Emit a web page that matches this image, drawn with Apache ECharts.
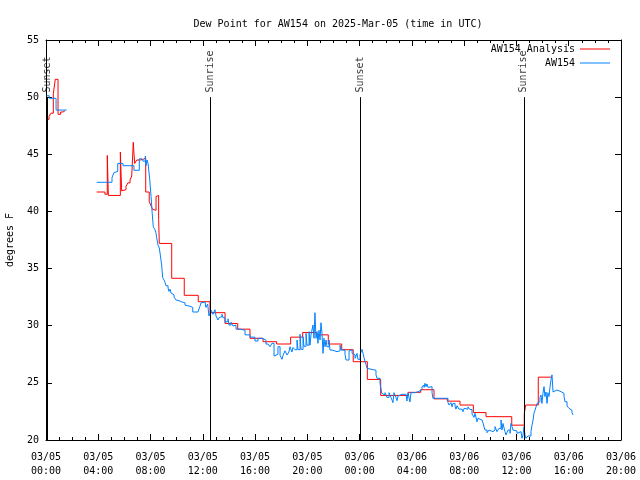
<!DOCTYPE html>
<html><head><meta charset="utf-8">
<script src="https://cdn.jsdelivr.net/npm/echarts@6/dist/echarts.min.js"></script>
<style>html,body{margin:0;padding:0;background:#fff}#c{width:640px;height:480px}</style>
</head><body><div id="c"></div>
<script>
// hours since 03/05 00:00 UTC ; null = data gap
const analysisHours = [0.05,0.23,0.38,0.56,0.71,0.92,1.12,1.30,1.45, null,
 3.88,4.51,4.69,4.77,5.69,5.79,5.89,6.12,6.27,6.43,
 6.56,6.66,6.68,6.73,6.79,6.94,7.19,7.40,7.63,7.90,
 8.01,8.16,8.26,8.42,8.55,8.62,8.67,9.62,10.58,11.65,
 12.55,13.70,14.67,15.61,16.61,17.65,18.72,19.64,20.71,21.60,
 22.63,23.51,24.59,25.61,27.72,28.67,29.69,30.71,31.68,32.70,
 33.67,35.64,36.60,36.71,37.67,38.64];
const analysisDewPt = [48.06,48.3,48.6,50.3,51.56,48.5,48.7,48.8,48.8, null,
 41.7,41.5,44.9,41.4,45.2,41.8,41.9,42.2,42.5,42.75,
 43.1,43.25,46.05,45.1,44.2,44.5,44.55,44.65,41.7,40.85,
 40.56,40.18,40.1,41.3,41.4,39.3,37.2,34.15,32.66,32.1,
 31.14,30.2,29.7,28.9,28.6,28.4,29.0,29.4,29.2,28.4,
 27.9,26.85,25.3,23.9,24.17,24.4,23.6,23.4,23.06,22.4,
 22.04,21.3,22.3,23.06,25.5,25.5];

const obsHours = [0.05,0.25,0.77,1.58, null,
 3.88,5.05,5.20,5.33,5.49,5.89,6.73,7.14,7.35,7.42,7.60,7.65,7.73,7.81,7.94,
 8.04,8.13,8.21,8.34,8.42,8.47,8.57,8.67,8.80,8.85,8.93,9.03,9.11,9.18,9.34,9.41,9.49,9.57,9.64,9.80,
 9.87,9.95,10.02,10.10,10.25,10.41,10.64,10.79,11.02,11.23,11.63,11.78,11.86,12.01,12.17,12.24,12.37,12.47,12.55,12.63,
 12.78,12.93,13.01,13.16,13.24,13.39,13.47,13.54,13.70,13.85,13.93,14.00,14.16,14.31,14.46,14.54,14.85,15.23,15.61,15.99,
 16.22,16.53,16.83,16.99,17.14,17.29,17.45,17.60,17.75,17.91,18.06,18.14,18.29,18.44,18.59,18.67,18.82,18.90,19.05,19.21,
 19.28,19.44,19.51,19.67,19.74,19.90,19.97,20.13,20.20,20.28,20.43,20.51,20.58,20.66,20.74,20.81,20.89,20.97,21.04,21.12,
 21.20,21.27,21.35,21.43,21.50,21.66,21.73,21.89,22.27,22.50,22.57,22.88,22.96,23.19,23.26,23.42,23.57,23.65,23.80,23.87,
 24.03,24.18,24.26,24.33,24.41,24.49,24.56,24.64,25.25,25.33,25.56,25.69,25.79,25.94,26.09,26.25,26.40,26.55,26.63,26.78,
 26.86,26.94,27.09,27.24,27.39,27.55,27.62,27.70,27.85,27.93,28.24,28.47,28.62,28.77,28.85,28.93,29.00,29.08,29.15,29.23,
 29.38,29.54,29.61,30.76,30.84,30.99,31.07,31.14,31.30,31.37,31.45,31.60,31.83,31.91,31.99,32.14,32.29,32.44,32.60,32.75,
 32.83,32.98,33.06,33.21,33.36,33.44,33.59,33.75,33.90,34.05,34.20,34.36,34.51,34.66,34.82,34.89,34.97,35.12,35.20,35.35,
 35.51,35.58,35.66,35.74,35.89,36.04,36.12,36.19,36.35,36.42,36.50,36.58,36.65,36.73,36.88,37.11,37.19,37.27,37.34,37.42,
 37.50,37.57,37.72,37.80,37.88,37.95,38.03,38.11,38.18,38.26,38.34,38.41,38.49,38.57,38.64,38.72,38.80,38.87,39.10,39.41,
 39.64,39.71,39.87,40.02,40.17,40.25,40.33];
const obsDewPt = [50.12,49.9,48.87,48.9, null,
 42.55,42.95,43.4,43.5,44.2,44.0,43.6,44.6,44.7,44.4,44.85,44.0,44.5,44.2,42.75,
 41.3,39.8,38.66,38.4,38.1,37.7,37.06,36.8,35.75,35.3,34.2,34.0,33.8,33.5,33.3,33.0,33.2,32.86,32.7,32.5,
 32.4,32.25,32.4,32.16,32.07,32.0,31.8,31.7,31.6,31.2,31.3,31.7,32.0,32.07,31.9,31.6,31.9,30.85,31.1,31.37,
 31.0,31.4,30.85,30.5,30.7,30.8,31.0,30.7,30.3,30.4,30.6,30.06,30.3,29.97,30.06,29.7,29.6,29.2,29.0,28.66,
 28.9,28.75,28.4,28.5,28.16,28.46,27.35,27.5,28.16,27.4,27.06,27.4,27.8,27.44,27.7,28.16,27.7,28.1,27.9,28.75,
 27.9,29.25,27.93,29.04,28.2,29.33,28.3,29.48,28.3,29.2,30.06,28.9,31.14,28.9,29.48,28.46,29.6,28.75,30.26,29.33,
 27.58,28.9,28.16,28.75,28.16,28.75,27.87,27.73,27.8,28.3,27.87,27.52,27.0,27.8,27.9,27.58,27.44,27.15,27.58,27.06,
 27.44,27.93,27.58,27.23,26.85,26.6,26.27,26.1,25.7,25.4,24.96,24.09,23.94,24.14,23.73,24.14,23.73,23.27,24.14,23.73,
 23.44,23.85,24.0,24.14,24.0,23.85,23.41,24.14,23.33,24.14,24.23,24.37,24.4,24.67,24.8,24.6,24.96,24.67,24.9,24.6,
 24.67,24.14,23.65,23.27,23.06,23.27,22.9,23.2,22.97,22.7,23.0,22.7,22.77,22.48,22.77,22.7,22.9,22.67,22.27,21.98,
 22.33,21.6,21.9,21.75,21.66,21.5,20.87,20.64,20.87,20.73,20.87,21.17,20.73,21.02,21.75,20.87,21.45,20.73,20.44,20.87,
 20.58,21.45,21.17,20.87,20.78,20.58,20.44,20.73,20.64,20.15,20.44,21.17,20.44,20.15,20.35,20.73,21.3,21.75,22.33,22.6,
 22.9,23.2,23.35,23.73,23.94,23.2,24.1,24.67,23.8,24.2,23.2,24.14,23.8,24.67,25.25,25.7,24.2,24.37,24.23,24.08,
 23.8,23.35,22.97,22.77,22.6,22.4,22.2];

const eventNames = ['Sunset','Sunrise','Sunset','Sunrise'];
const eventHours = [0.08,12.55,24.03,36.57];
const xTickLabels = ['03/05\n00:00','03/05\n04:00','03/05\n08:00','03/05\n12:00','03/05\n16:00','03/05\n20:00',
 '03/06\n00:00','03/06\n04:00','03/06\n08:00','03/06\n12:00','03/06\n16:00','03/06\n20:00'];
const seriesNames = ['AW154 Analysis','AW154'];

const FONT = 'DejaVu Sans Mono';
const RED = '#ff0000', BLUE = '#0080ff';

function segments(ts, vs){
  const out=[]; let cur=[];
  ts.forEach((t,i)=>{ if(t===null||vs[i]===null){ if(cur.length) out.push(cur); cur=[]; } else cur.push([t,vs[i]]); });
  if(cur.length) out.push(cur);
  return out;
}
function lineSeries(name,color,segs){
  return segs.map(d=>({type:'line',name,data:d,step:'end',symbol:'none',showSymbol:false,
    lineStyle:{color,width:1},itemStyle:{color},animation:false,silent:true,xAxisIndex:0,yAxisIndex:0}));
}
const series = [
  ...lineSeries(seriesNames[0],RED,segments(analysisHours,analysisDewPt)),
  ...lineSeries(seriesNames[1],BLUE,segments(obsHours,obsDewPt)),
  {type:'line',name:'events',data:[],symbol:'none',animation:false,silent:true,
   markLine:{symbol:['none','none'],silent:true,animation:false,label:{show:false},
     lineStyle:{color:'#000',width:1,type:'solid'},
     data:eventHours.map(t=>[{coord:[t,20]},{coord:[t,50]}])}},
  {type:'scatter',name:'eventLabels',data:eventHours.map(t=>[t,50.4]),symbolSize:0,animation:false,silent:true,
   label:{show:true,formatter:p=>eventNames[p.dataIndex],rotate:90,position:[0,0],align:'left',verticalAlign:'middle',
     fontFamily:FONT,fontSize:10,color:'#000'}}
];

const axisCommonX = {type:'value',min:0,max:44,interval:4,
  axisLine:{onZero:false,lineStyle:{color:'#000',width:1}},
  axisTick:{inside:true,length:6,lineStyle:{color:'#000'}},
  minorTick:{show:true,splitNumber:4,length:3,lineStyle:{color:'#000'}},
  splitLine:{show:false},minorSplitLine:{show:false}};
const axisCommonY = {type:'value',min:20,max:55,interval:5,
  axisLine:{onZero:false,lineStyle:{color:'#000',width:1}},
  axisTick:{inside:true,length:6,lineStyle:{color:'#000'}},
  splitLine:{show:false}};

const legendCommon = {orient:'horizontal',align:'right',itemWidth:30,itemHeight:1,icon:'rect',itemGap:4,
  textStyle:{fontFamily:FONT,fontSize:10,color:'#000'},selectedMode:false,padding:0};

const chart = echarts.init(document.getElementById('c'),null,{renderer:'canvas'});
chart.setOption({
  backgroundColor:'#fff',
  animation:false,
  title:{text:'Dew Point for AW154 on 2025-Mar-05 (time in UTC)',left:333,top:14,textAlign:'center',
    textStyle:{fontFamily:FONT,fontSize:10,fontWeight:'normal',color:'#000'}},
  legend:[
    Object.assign({},legendCommon,{data:[seriesNames[0]],right:30,top:44}),
    Object.assign({},legendCommon,{data:[seriesNames[1]],right:30,top:58})
  ],
  grid:{left:46,right:19,top:40,bottom:40,containLabel:false,outerBoundsMode:'none'},
  xAxis:[
    Object.assign({},axisCommonX,{position:'bottom',
      axisLabel:{formatter:v=>xTickLabels[Math.round(v/4)],color:'#000',fontFamily:FONT,fontSize:10,lineHeight:14,margin:10}}),
    Object.assign({},axisCommonX,{position:'top',axisLabel:{show:false}})
  ],
  yAxis:[
    Object.assign({},axisCommonY,{position:'left',name:'degrees F',nameLocation:'middle',nameGap:31,
      nameTextStyle:{fontFamily:FONT,fontSize:10,color:'#000'},
      axisLabel:{color:'#000',fontFamily:FONT,fontSize:10,margin:7}}),
    Object.assign({},axisCommonY,{position:'right',axisLabel:{show:false}})
  ],
  series
});
</script></body></html>
